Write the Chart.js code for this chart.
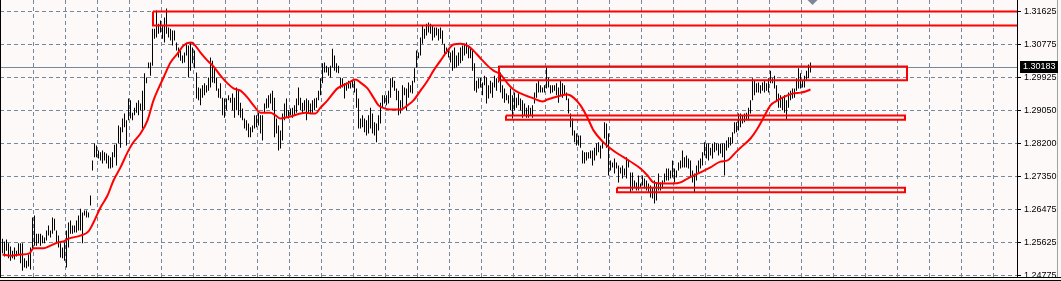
<!DOCTYPE html>
<html>
<head>
<title>Price chart</title>
<script src="https://cdn.jsdelivr.net/npm/chart.js"></script>
<style>
  body { margin: 0; background: #fdf9f9; }
  canvas { display: block; }
</style>
</head>
<body>
<canvas id="priceChart" width="1061" height="281"></canvas>
<script>
// one high and one low per bar, oldest first
const highs = [
  1.2573,1.2566,1.2571,1.2561,1.2553,1.2542,1.2550,1.2542,1.2561,1.2561,1.2561,1.2522,1.2516,1.2532,1.2550,1.2628,
  1.2633,1.2586,1.2586,1.2586,1.2581,1.2576,1.2594,1.2607,1.2594,1.2628,1.2625,1.2594,1.2581,1.2561,1.2550,1.2563,
  1.2594,1.2615,1.2620,1.2607,1.2607,1.2620,1.2633,1.2651,1.2641,1.2646,1.2646,1.2641,1.2685,1.2776,1.2820,1.2815,
  1.2802,1.2797,1.2802,1.2797,1.2794,1.2789,1.2784,1.2797,1.2817,1.2820,1.2867,1.2862,1.2885,1.2898,1.2880,1.2937,
  1.2932,1.2900,1.2913,1.2926,1.2932,1.2924,1.2957,1.3002,1.2991,1.3030,1.3030,1.3118,1.3118,1.3165,1.3131,1.3139,
  1.3126,1.3147,1.3170,1.3121,1.3118,1.3113,1.3113,1.3082,1.3069,1.3061,1.3048,1.3056,1.3079,1.3074,1.3082,1.3069,
  1.3061,1.3004,1.2965,1.2963,1.2971,1.2976,1.2971,1.2991,1.3043,1.3035,1.3015,1.2991,1.2963,1.2976,1.2939,1.2937,
  1.2937,1.2945,1.2939,1.2950,1.2939,1.2965,1.2957,1.2926,1.2911,1.2885,1.2880,1.2872,1.2862,1.2867,1.2893,1.2893,
  1.2900,1.2893,
  1.2893,1.2924,1.2937,1.2945,1.2950,1.2957,1.2939,1.2885,1.2867,1.2854,1.2898,1.2924,1.2937,1.2906,1.2911,1.2913,
  1.2919,1.2937,1.2965,1.2939,1.2926,1.2932,1.2937,1.2932,1.2924,1.2932,1.2937,1.2939,1.2957,1.2989,1.3028,1.3030,
  1.3022,1.3017,1.3022,1.3066,1.3048,1.3028,1.3022,1.2991,1.2989,1.2976,1.2978,1.2983,1.2978,1.2983,1.2983,1.2963,
  1.2937,1.2885,1.2893,1.2885,1.2880,1.2893,1.2913,1.2898,1.2875,1.2872,1.2893,1.2926,1.2945,1.2945,1.2945,1.2957,
  1.2989,1.2991,1.2983,1.2963,1.2957,1.2932,1.2971,1.2965,1.2963,1.2978,1.2971,1.2983,1.3015,1.3061,1.3056,1.3095,
  1.3126,1.3118,1.3131,1.3134,1.3131,1.3126,1.3121,1.3121,1.3118,1.3121,1.3113,1.3079,1.3069,1.3066,1.3056,1.3061,
  1.3069,1.3048,1.3056,1.3069,1.3074,1.3079,1.3082,1.3074,1.3069,1.3061,1.3028,1.2983,1.2989,1.2991,1.2978,1.2996,
  1.2991,1.2971,1.2983,1.2978,1.2996,1.2989,1.3022,1.3004,1.2971,1.2963,1.2950,1.2945,1.2963,1.2945,1.2952,1.2939,
  1.2950,
  1.2937,1.2932,1.2924,1.2913,1.2919,1.2913,1.2919,1.2952,1.2976,1.2983,1.2971,1.2965,1.2971,1.3017,1.2991,1.2971,
  1.2971,1.2971,1.2976,1.2965,1.2983,1.2976,1.2971,1.2952,1.2937,1.2898,1.2885,1.2854,1.2846,1.2841,1.2841,1.2802,
  1.2797,1.2797,1.2797,1.2802,1.2802,1.2809,1.2820,1.2823,1.2815,1.2823,1.2875,1.2872,1.2846,1.2776,1.2771,1.2781,
  1.2771,1.2763,1.2758,1.2763,1.2755,1.2784,1.2776,1.2745,1.2745,1.2724,1.2719,1.2737,1.2716,1.2737,1.2729,1.2724,
  1.2716,1.2711,1.2706,1.2724,1.2719,1.2742,1.2719,1.2724,1.2742,1.2755,1.2755,1.2750,1.2776,1.2755,1.2750,1.2771,
  1.2776,1.2802,1.2784,1.2789,1.2781,1.2776,1.2750,1.2742,1.2763,1.2776,1.2781,1.2797,1.2823,1.2820,1.2820,1.2809,
  1.2820,1.2823,1.2820,1.2820,1.2820,1.2820,1.2820,1.2828,1.2836,1.2836,1.2849,1.2875,1.2875,1.2898,1.2898,1.2893,
  1.2898,1.2900,1.2913,1.2932,1.2989,1.2983,1.2976,1.2978,1.2971,1.2978,1.2983,1.2976,1.2989,1.3009,1.2989,1.2996,
  1.2971,1.2950,1.2945,1.2939,1.2945,1.2932,1.2952,1.2957,1.2963,1.2963,1.2989,1.3015,1.3002,1.2983,1.2996,1.3009,
  1.3025,1.3030
];
const lows = [
  1.2535,1.2527,1.2542,1.2522,1.2516,1.2522,1.2519,1.2527,1.2532,1.2509,1.2490,1.2498,1.2496,1.2501,1.2493,1.2548,
  1.2555,1.2555,1.2561,1.2555,1.2561,1.2561,1.2568,1.2581,1.2576,1.2586,1.2594,1.2561,1.2550,1.2524,1.2522,1.2516,
  1.2498,1.2550,1.2586,1.2586,1.2589,1.2589,1.2594,1.2594,1.2561,1.2633,1.2628,1.2628,1.2659,1.2750,1.2784,1.2784,
  1.2781,1.2776,1.2768,1.2776,1.2768,1.2755,1.2755,1.2758,1.2784,1.2763,1.2820,1.2809,1.2849,1.2862,1.2815,1.2880,
  1.2885,1.2880,1.2893,1.2900,1.2893,1.2906,1.2859,1.2906,1.2976,1.3015,1.2996,1.3022,1.3092,1.3095,1.3105,1.3108,
  1.3092,1.3082,1.3105,1.3095,1.3087,1.3074,1.3087,1.3061,1.3043,1.3035,1.3028,1.3030,1.3048,1.2991,1.3009,1.3028,
  1.3015,1.2937,1.2932,1.2919,1.2939,1.2945,1.2952,1.2957,1.2965,1.2978,1.2976,1.2957,1.2939,1.2937,1.2893,1.2887,
  1.2906,1.2932,1.2926,1.2906,1.2887,1.2906,1.2893,1.2887,1.2880,1.2859,1.2854,1.2836,1.2836,1.2849,1.2859,1.2862,
  1.2867,1.2846,
  1.2828,1.2900,1.2911,1.2913,1.2924,1.2906,1.2836,1.2846,1.2802,1.2807,1.2828,1.2880,1.2887,1.2885,1.2893,1.2887,
  1.2893,1.2900,1.2919,1.2906,1.2898,1.2906,1.2880,1.2898,1.2898,1.2900,1.2906,1.2913,1.2932,1.2945,1.2976,1.3004,
  1.3004,1.2996,1.2991,1.3017,1.3009,1.3004,1.3002,1.2963,1.2965,1.2937,1.2957,1.2963,1.2963,1.2965,1.2952,1.2913,
  1.2859,1.2859,1.2862,1.2849,1.2841,1.2846,1.2859,1.2846,1.2841,1.2823,1.2854,1.2872,1.2913,1.2924,1.2919,1.2924,
  1.2939,1.2965,1.2957,1.2932,1.2893,1.2898,1.2913,1.2945,1.2906,1.2939,1.2952,1.2950,1.2978,1.3017,1.3041,1.3048,
  1.3079,1.3092,1.3100,1.3108,1.3105,1.3087,1.3095,1.3100,1.3087,1.3092,1.3079,1.3053,1.3053,1.3043,1.3030,1.3009,
  1.3015,1.3017,1.3022,1.3028,1.3035,1.3048,1.3053,1.3041,1.3041,1.3009,1.2957,1.2952,1.2963,1.2965,1.2945,1.2971,
  1.2924,1.2937,1.2950,1.2939,1.2965,1.2957,1.2978,1.2952,1.2937,1.2926,1.2932,1.2924,1.2906,1.2885,1.2906,1.2913,
  1.2919,
  1.2906,1.2887,1.2893,1.2887,1.2887,1.2893,1.2887,1.2924,1.2939,1.2952,1.2952,1.2952,1.2952,1.2963,1.2965,1.2950,
  1.2952,1.2957,1.2945,1.2926,1.2945,1.2939,1.2945,1.2932,1.2898,1.2862,1.2841,1.2823,1.2815,1.2815,1.2809,1.2768,
  1.2768,1.2776,1.2781,1.2781,1.2763,1.2776,1.2789,1.2797,1.2781,1.2807,1.2833,1.2809,1.2737,1.2750,1.2758,1.2742,
  1.2755,1.2719,1.2742,1.2729,1.2737,1.2729,1.2758,1.2693,1.2698,1.2706,1.2698,1.2698,1.2706,1.2711,1.2703,1.2698,
  1.2693,1.2680,1.2677,1.2664,1.2672,1.2698,1.2698,1.2703,1.2719,1.2724,1.2724,1.2729,1.2732,1.2719,1.2732,1.2750,
  1.2755,1.2758,1.2758,1.2758,1.2755,1.2732,1.2719,1.2693,1.2724,1.2745,1.2755,1.2763,1.2789,1.2781,1.2776,1.2789,
  1.2781,1.2797,1.2802,1.2789,1.2794,1.2784,1.2737,1.2802,1.2809,1.2815,1.2820,1.2846,1.2849,1.2854,1.2862,1.2872,
  1.2875,1.2880,1.2880,1.2898,1.2932,1.2945,1.2952,1.2952,1.2950,1.2957,1.2952,1.2957,1.2952,1.2976,1.2976,1.2963,
  1.2932,1.2913,1.2913,1.2906,1.2900,1.2882,1.2913,1.2932,1.2937,1.2939,1.2957,1.2963,1.2963,1.2965,1.2965,1.2983,
  1.2989,1.3004
];

// red moving average, read at bar positions
const maX = [0,4,9,13.5,15.5,20.5,24,27.5,30.5,33,39,43,45.5,49,52.5,55.5,59,62.5,65,69,
  72.5,75.5,78,80.5,84,87.5,90.5,94,95.5,99,102.5,105.5,109,112.5,115.5,119,122.5,125.5,129,134,
  136.5,139,144,149,151.5,154,156.5,159,162.5,167.5,172.5,176.5,179,182.5,185.5,188,190,194,199,202.5,
  205.5,209,212.5,215.5,219,222.5,225.5,229,232.5,235.5,239,242.5,245.5,249,252.5,255.5,259,265.5,270,272.5,
  277.5,282.5,285.5,289,292.5,295.5,300.5,304,307.5,312.5,315.5,319,322.5,325.5,330.5,335.5,339,342.5,349,354,
  359,362.5,365.5,369,374,377.5,380.5,384,387.5,392.5,395.5,399,401.5,404];
const maY = [1.2532,1.2529,1.2532,1.2535,1.2548,1.2548,1.2555,1.2563,1.2566,1.2573,1.2581,1.2592,1.2615,1.2654,1.2685,1.2724,1.2758,1.2797,1.2820,1.2846,
  1.2880,1.2932,1.2963,1.2991,1.3030,1.3053,1.3074,1.3082,1.3079,1.3056,1.3035,1.3020,1.2996,1.2976,1.2963,1.2957,1.2939,1.2919,1.2900,1.2900,
  1.2893,1.2885,1.2890,1.2898,1.2900,1.2898,1.2898,1.2913,1.2932,1.2963,1.2976,1.2986,1.2978,1.2963,1.2939,1.2919,1.2913,1.2908,1.2908,1.2919,
  1.2932,1.2957,1.2983,1.3009,1.3035,1.3061,1.3077,1.3079,1.3074,1.3061,1.3041,1.3022,1.3009,1.2999,1.2976,1.2960,1.2950,1.2937,1.2929,1.2934,
  1.2942,1.2947,1.2939,1.2919,1.2887,1.2854,1.2823,1.2807,1.2794,1.2778,1.2768,1.2755,1.2737,1.2719,1.2716,1.2716,1.2719,1.2729,1.2745,1.2758,
  1.2773,1.2776,1.2791,1.2809,1.2833,1.2859,1.2887,1.2919,1.2932,1.2945,1.2950,1.2952,1.2955,1.2960];

// price axis labels, top to bottom
const tickLabels = ['1.31625','1.30775','1.29925','1.29050','1.28200','1.27350','1.26475','1.25625','1.24775'];
const lastPrice = 1.30183;

// rectangles: start bar, end bar, top price, bottom price
const boxStart = [75.25, 248.25, 251.75, 307.25];
const boxEnd = [520, 452.25, 451.25, 451.25];
const boxTop = [1.31625, 1.30200, 1.28926, 1.27053];
const boxBottom = [1.31261, 1.29839, 1.28815, 1.26933];

const yTop = 1.31923, yBottom = 1.24736;
const tickStep = (1.31625 - 1.24775) / (tickLabels.length - 1);
const gridColor = '#778899';
const gridDash = [4, 3];
const labelFont = '9px "Liberation Sans"';

const boxSets = boxStart.map((s, k) => ({
  type: 'line',
  data: [
    {x: s, y: boxTop[k]}, {x: boxEnd[k], y: boxTop[k]},
    {x: boxEnd[k], y: boxBottom[k]}, {x: s, y: boxBottom[k]}, {x: s, y: boxTop[k]}
  ],
  borderColor: '#ff0000',
  borderWidth: 2,
  borderJoinStyle: 'miter',
  pointRadius: 0,
  tension: 0,
  fill: false,
  clip: 0,
  order: 1
}));

const chartFrame = {
  id: 'chartFrame',
  beforeDraw(chart) {
    const c = chart.ctx;
    c.save();
    c.fillStyle = '#fdf9f9';
    c.fillRect(0, 0, chart.width, chart.height);
    c.restore();
  },
  beforeDatasetsDraw(chart) {
    // bid line
    const c = chart.ctx, a = chart.chartArea;
    const y = Math.round(chart.scales.y.getPixelForValue(lastPrice)) + 0.5;
    c.save();
    c.strokeStyle = gridColor;
    c.lineWidth = 1;
    c.beginPath();
    c.moveTo(a.left, y);
    c.lineTo(a.right, y);
    c.stroke();
    c.restore();
  },
  afterDraw(chart) {
    const c = chart.ctx, a = chart.chartArea;
    c.save();
    c.fillStyle = '#000';
    c.fillRect(0, 0, 1, a.bottom);
    c.fillRect(0, a.bottom, chart.width, 1);
    c.fillRect(0, chart.height - 1, chart.width, 1);
    c.fillStyle = '#a0a0a0';
    c.fillRect(chart.width - 4, 0, 1, a.bottom);

    // last price tag
    const y = Math.round(chart.scales.y.getPixelForValue(lastPrice));
    c.fillStyle = '#000';
    c.fillRect(a.right + 3, y - 6, 38, 12);
    c.fillStyle = '#fff';
    c.font = labelFont;
    c.textBaseline = 'middle';
    c.fillText(lastPrice.toFixed(5), a.right + 6, y);

    // chart shift marker
    const mx = chart.scales.x.getPixelForValue(highs.length - 1) + 2;
    c.fillStyle = '#7b8898';
    c.beginPath();
    c.moveTo(mx - 5, 0);
    c.lineTo(mx + 5, 0);
    c.lineTo(mx, 5);
    c.closePath();
    c.fill();
    c.restore();
  }
};

new Chart(document.getElementById('priceChart').getContext('2d'), {
  type: 'line',
  data: {
    datasets: [
      {
        type: 'bar',
        data: highs.map((h, i) => ({x: i, y: [lows[i], h]})),
        backgroundColor: '#000',
        barThickness: 1,
        inflateAmount: 0,
        order: 3
      },
      {
        type: 'line',
        data: maX.map((x, i) => ({x: x, y: maY[i]})),
        borderColor: '#ff0000',
        borderWidth: 2,
        pointRadius: 0,
        cubicInterpolationMode: 'monotone',
        fill: false,
        clip: 0,
        order: 2
      },
      ...boxSets
    ]
  },
  options: {
    responsive: false,
    animation: false,
    events: [],
    layout: { padding: { top: 0, left: 0, right: 0, bottom: 4 } },
    plugins: { legend: { display: false }, tooltip: { enabled: false } },
    scales: {
      x: {
        type: 'linear',
        min: -1.25,
        max: 507.25,
        offset: false,
        ticks: { display: false },
        grid: { color: gridColor, lineWidth: 1, drawTicks: false, offset: false },
        border: { display: false, dash: gridDash },
        afterBuildTicks: s => {
          const t = [];
          for (let v = 15.5; v < 507; v += 16) t.push({ value: v });
          s.ticks = t;
        },
        afterFit: s => { s.height = 0; s.paddingLeft = 0; s.paddingRight = 0; }
      },
      y: {
        position: 'right',
        min: yBottom,
        max: yTop,
        ticks: {
          autoSkip: false,
          padding: 3,
          color: '#000',
          font: { family: 'Liberation Sans', size: 9 },
          callback: (v, i) => tickLabels[i]
        },
        grid: { color: gridColor, lineWidth: 1, tickLength: 4, tickColor: '#000' },
        border: { display: true, color: '#000', width: 1, dash: gridDash },
        afterBuildTicks: s => {
          s.ticks = tickLabels.map((_, k) => ({ value: 1.31625 - k * tickStep }));
        },
        afterFit: s => { s.width = 44; s.paddingTop = 0; s.paddingBottom = 0; }
      }
    }
  },
  plugins: [chartFrame]
});
</script>
</body>
</html>
